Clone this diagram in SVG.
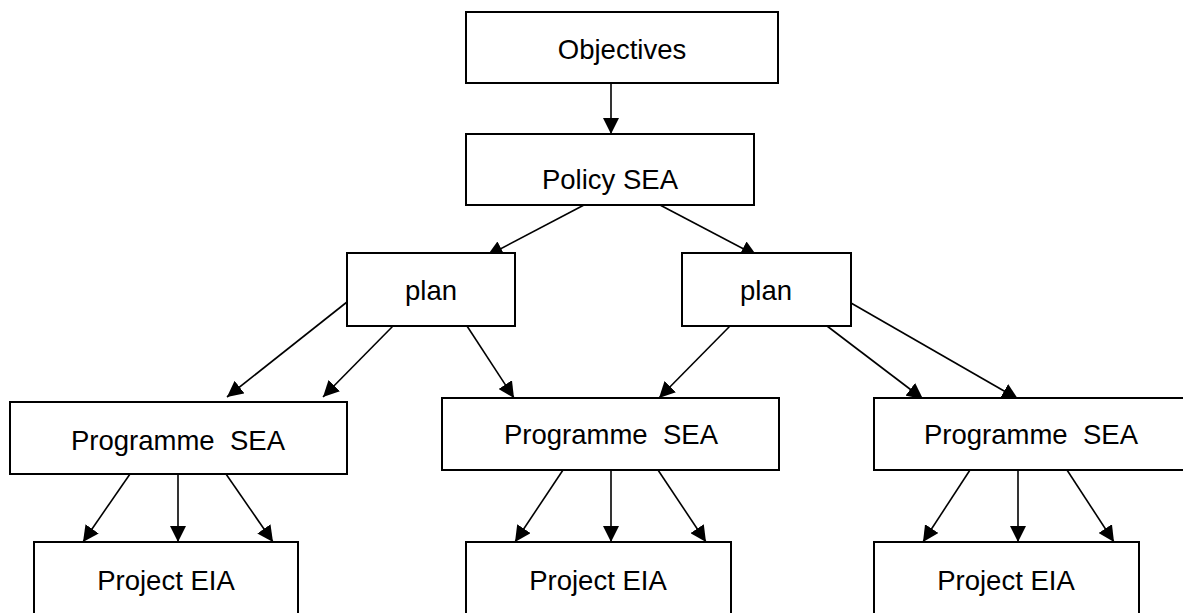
<svg xmlns="http://www.w3.org/2000/svg" width="1183" height="613" viewBox="0 0 1183 613">
<defs>
<marker id="ah" markerUnits="userSpaceOnUse" markerWidth="16" markerHeight="16" refX="16" refY="8" orient="auto" viewBox="0 0 16 16">
<path d="M0,0 L16,8 L0,16 z" fill="#000"/>
</marker>
<style>
.box{fill:#fff;stroke:#000;stroke-width:2}
.lbl{font-family:"Liberation Sans",Arial,sans-serif;font-size:27.5px;fill:#000;text-anchor:middle}
.c{stroke:#000;stroke-width:1.6;fill:none;marker-end:url(#ah)}
</style>
</defs>
<rect width="1183" height="613" fill="#fff"/>
<g id="connectors">
<line class="c" x1="611" y1="83" x2="611" y2="134"/>
<line class="c" x1="584" y1="205" x2="487" y2="256"/>
<line class="c" x1="660" y1="205" x2="757" y2="256"/>
<line class="c" x1="347" y1="302" x2="227" y2="397"/>
<line class="c" x1="393" y1="326" x2="323" y2="397"/>
<line class="c" x1="467" y1="326" x2="514" y2="398"/>
<line class="c" x1="730" y1="326" x2="659" y2="398"/>
<line class="c" x1="827" y1="326" x2="923" y2="399"/>
<line class="c" x1="851" y1="303" x2="1018" y2="399"/>
<line class="c" x1="130" y1="474" x2="83" y2="542"/>
<line class="c" x1="178" y1="474" x2="178" y2="542"/>
<line class="c" x1="226" y1="474" x2="273" y2="542"/>
<line class="c" x1="563" y1="470" x2="515" y2="542"/>
<line class="c" x1="611" y1="470" x2="611" y2="542"/>
<line class="c" x1="658" y1="470" x2="706" y2="542"/>
<line class="c" x1="970" y1="470" x2="923" y2="542"/>
<line class="c" x1="1018" y1="470" x2="1018" y2="542"/>
<line class="c" x1="1067" y1="470" x2="1114" y2="542"/>
</g>
<g id="objectives"><rect class="box" x="466" y="12" width="312" height="71"/><text class="lbl" x="622" y="59">Objectives</text></g>
<g id="policy-sea"><rect class="box" x="466" y="134" width="288" height="71"/><text class="lbl" x="610" y="189">Policy SEA</text></g>
<g id="plan-left"><rect class="box" x="347" y="253" width="168" height="73"/><text class="lbl" x="431" y="300">plan</text></g>
<g id="plan-right"><rect class="box" x="682" y="253" width="169" height="73"/><text class="lbl" x="766" y="300">plan</text></g>
<g id="programme-left"><rect class="box" x="10" y="402" width="337" height="72"/><text class="lbl" x="178" y="450" xml:space="preserve">Programme  SEA</text></g>
<g id="programme-mid"><rect class="box" x="442" y="398" width="337" height="72"/><text class="lbl" x="611" y="444" xml:space="preserve">Programme  SEA</text></g>
<g id="programme-right"><rect class="box" x="874" y="398" width="314" height="72"/><text class="lbl" x="1031" y="444" xml:space="preserve">Programme  SEA</text></g>
<g id="project-left"><rect class="box" x="34" y="542" width="264" height="100"/><text class="lbl" x="166" y="590">Project EIA</text></g>
<g id="project-mid"><rect class="box" x="466" y="542" width="265" height="100"/><text class="lbl" x="598" y="590">Project EIA</text></g>
<g id="project-right"><rect class="box" x="874" y="542" width="265" height="100"/><text class="lbl" x="1006" y="590">Project EIA</text></g>
</svg>
